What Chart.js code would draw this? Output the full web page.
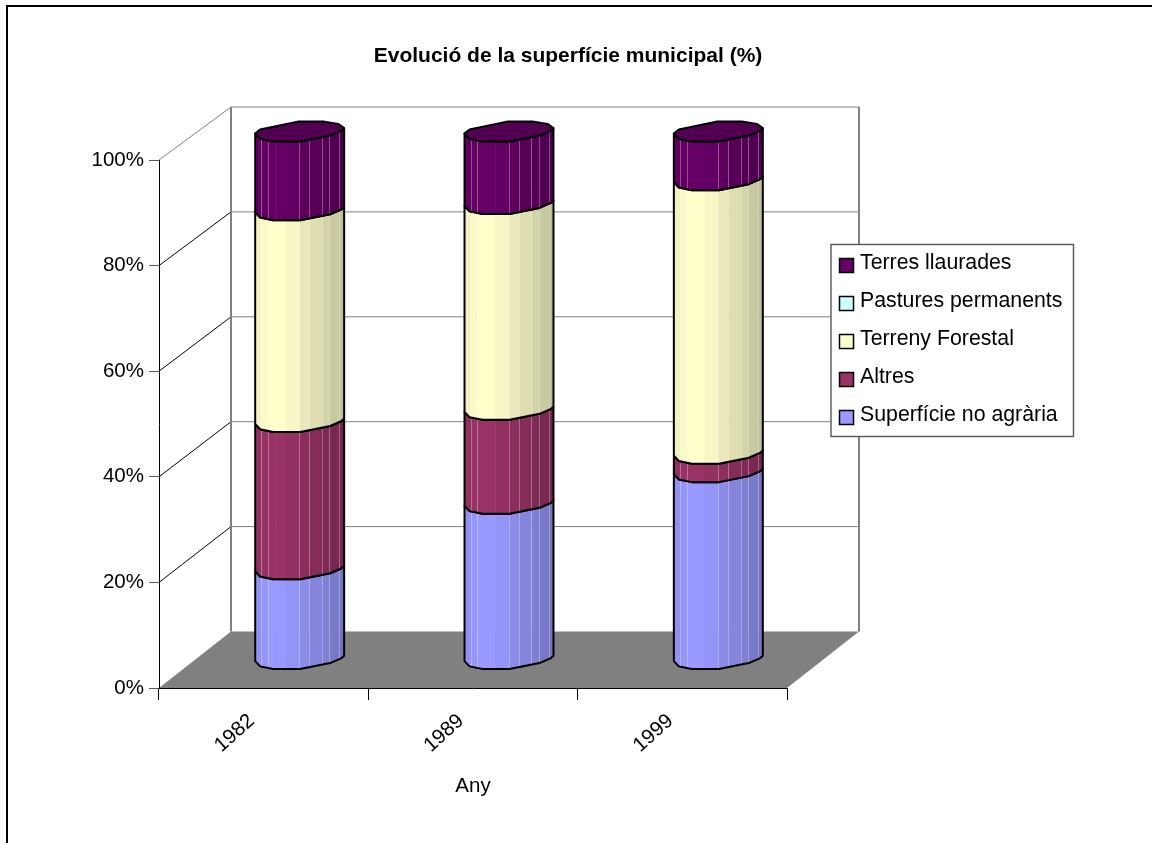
<!DOCTYPE html>
<html>
<head>
<meta charset="utf-8">
<title>Evolució de la superfície municipal</title>
<script src="https://cdn.jsdelivr.net/npm/chart.js@4/dist/chart.umd.min.js"></script>
<style>
  html, body { margin: 0; padding: 0; background: #fff; overflow: hidden; }
  canvas { display: block; }
</style>
</head>
<body>
<canvas id="barChart" width="1152" height="843"></canvas>
<script>
var years = ["1982", "1989", "1999"];
var superficie = [17.1, 29.5, 35.5];
var altres = [27.9, 17.8, 3.5];
var forestal = [40.1, 39.0, 51.8];
var pastures = [0, 0, 0];
var terres = [14.9, 13.7, 9.2];
var yTicks = [0, 20, 40, 60, 80, 100];

var FONT = "'Liberation Sans', Arial, sans-serif";
var GREY = "#808080";

// depth of the fake 3D box, the back wall is a bit shorter than the front plane
var depthX = 72, depthTop = 53, depthBottom = 56.5;

// outline of the octagonal column, measured for a half width of 44.5
var frontCurve = [[-44.5, 2], [-39.5, 7.3], [-26.5, 10], [0.5, 10], [30.5, 4], [42, -1], [44.5, -3.4]];
var backCurve = [[44.5, -3.4], [38.5, -7.7], [23.5, -10], [-1, -10], [-39.5, -2], [-44.5, 2]];
var facets = [0, 6, 12.7, 20, 30.7, 44.3, 54.3, 66.7, 74.3, 84.3, 89];
var shades = [0.95, 0.98, 1, 1, 0.97, 0.91, 0.87, 0.83, 0.79, 0.75];

function shade(hex, f) {
  var n = parseInt(hex.slice(1), 16);
  var r = Math.round((n >> 16 & 255) * f);
  var g = Math.round((n >> 8 & 255) * f);
  var b = Math.round((n & 255) * f);
  return "rgb(" + r + "," + g + "," + b + ")";
}

function backY(y, area) {
  var t = (y - area.top) / (area.bottom - area.top);
  return y - (depthTop + (depthBottom - depthTop) * t);
}

function drawWalls(ctx, chart) {
  var area = chart.chartArea;
  var yScale = chart.scales.y;
  var top = backY(area.top, area);
  var bottom = backY(area.bottom, area);

  ctx.fillStyle = GREY;
  ctx.beginPath();
  ctx.moveTo(area.left, area.bottom);
  ctx.lineTo(area.right, area.bottom);
  ctx.lineTo(area.right + depthX, bottom);
  ctx.lineTo(area.left + depthX, bottom);
  ctx.closePath();
  ctx.fill();

  yTicks.forEach(function(v) {
    var y = yScale.getPixelForValue(v);
    ctx.lineWidth = 1;
    ctx.strokeStyle = v == 100 ? GREY : "#000";
    if (v > 0) {
      ctx.beginPath();
      ctx.moveTo(area.left, y);
      ctx.lineTo(area.left + depthX, backY(y, area));
      ctx.stroke();
      ctx.strokeStyle = GREY;
      ctx.beginPath();
      ctx.moveTo(area.left + depthX, backY(y, area));
      ctx.lineTo(area.right + depthX, backY(y, area));
      ctx.stroke();
    }
  });

  ctx.strokeStyle = GREY;
  ctx.lineWidth = 2;
  ctx.beginPath();
  ctx.moveTo(area.left + depthX, top);
  ctx.lineTo(area.left + depthX, bottom);
  ctx.moveTo(area.right + depthX, top);
  ctx.lineTo(area.right + depthX, bottom);
  ctx.stroke();
}

function tracePoints(path, pts, cx, cy, k, first) {
  pts.forEach(function(p, i) {
    var x = cx + p[0] * k, y = cy + p[1];
    if (i == 0 && first) path.moveTo(x, y); else path.lineTo(x, y);
  });
}

function drawColumn(ctx, bar, color, isTop) {
  var k = bar.width / 89;
  var cx = bar.x + depthX / 2;
  var lift = (depthTop + depthBottom) / 4 + 0.3 * (depthBottom - depthTop);
  var yBase = bar.base - lift;
  var yTop = bar.y - lift;
  var left = cx - bar.width / 2;

  var outline = new Path2D();
  tracePoints(outline, frontCurve, cx, yBase, k, true);
  tracePoints(outline, frontCurve.slice().reverse(), cx, yTop, k, false);
  outline.closePath();

  ctx.save();
  ctx.clip(outline);
  shades.forEach(function(f, i) {
    ctx.fillStyle = shade(color, f);
    ctx.fillRect(left + facets[i] * k, yTop - 15, (facets[i + 1] - facets[i]) * k + 0.5, yBase - yTop + 30);
  });
  ctx.strokeStyle = "rgba(255,255,255,0.3)";
  ctx.lineWidth = 1;
  [1, 2, 5, 6, 7, 8, 9].forEach(function(i) {
    var x = Math.round(left + facets[i] * k) + 0.5;
    ctx.beginPath();
    ctx.moveTo(x, yTop - 15);
    ctx.lineTo(x, yBase + 15);
    ctx.stroke();
  });
  ctx.restore();
  ctx.strokeStyle = "#000";
  ctx.lineWidth = 2;
  ctx.lineJoin = "round";
  ctx.stroke(outline);

  if (isTop) {
    var cap = new Path2D();
    tracePoints(cap, frontCurve, cx, yTop, k, true);
    tracePoints(cap, backCurve, cx, yTop, k, false);
    cap.closePath();
    ctx.fillStyle = shade(color, 0.8);
    ctx.fill(cap);
    ctx.stroke(cap);
  }
}

function drawLegend(ctx, chart) {
  var sets = chart.data.datasets.slice().reverse();
  var x = 831, y = 244.5, w = 242.5, h = 192, step = 38;
  ctx.fillStyle = "#fff";
  ctx.fillRect(x, y, w, h);
  ctx.strokeStyle = "#555";
  ctx.lineWidth = 1.4;
  ctx.strokeRect(x, y, w, h);
  ctx.font = "21.3px " + FONT;
  ctx.textBaseline = "middle";
  ctx.textAlign = "left";
  sets.forEach(function(ds, i) {
    var cy = y + 21 + i * step;
    ctx.fillStyle = ds.backgroundColor;
    ctx.fillRect(x + 8.5, cy - 7, 14, 14);
    ctx.strokeStyle = "#000";
    ctx.lineWidth = 1.5;
    ctx.strokeRect(x + 8.5, cy - 7, 14, 14);
    ctx.fillStyle = "#000";
    ctx.fillText(ds.label, x + 29, cy - 2);
  });
}

var box3d = {
  id: "box3d",
  afterLayout: function(chart) {
    // title sits over the middle of the frame, not of the window
    chart.titleBlock.left = -16;
    chart.titleBlock.right = 1152;
  },
  beforeDraw: function(chart) {
    var ctx = chart.ctx;
    ctx.save();
    ctx.fillStyle = "#fff";
    ctx.fillRect(0, 0, chart.width, chart.height);
    // frame is cut by the screenshot, only top and left show
    ctx.strokeStyle = "#000";
    ctx.lineWidth = 2;
    ctx.beginPath();
    ctx.moveTo(7, chart.height);
    ctx.lineTo(7, 6);
    ctx.lineTo(chart.width, 6);
    ctx.stroke();
    ctx.restore();
  },
  beforeDatasetsDraw: function(chart) {
    var ctx = chart.ctx;
    ctx.save();
    drawWalls(ctx, chart);
    years.forEach(function(year, col) {
      var last = -1;
      chart.data.datasets.forEach(function(ds, i) {
        if (ds.data[col] > 0) last = i;
      });
      chart.data.datasets.forEach(function(ds, i) {
        if (ds.data[col] > 0) {
          drawColumn(ctx, chart.getDatasetMeta(i).data[col], ds.backgroundColor, i == last);
        }
      });
    });
    ctx.restore();
    return false;
  },
  afterDraw: function(chart) {
    chart.ctx.save();
    drawLegend(chart.ctx, chart);
    chart.ctx.restore();
  }
};

var barChart = document.getElementById("barChart").getContext("2d");

var myBarChart = new Chart(barChart, {
  type: "bar",
  plugins: [box3d],
  data: {
    labels: years,
    datasets: [
      { label: "Superfície no agrària", data: superficie, backgroundColor: "#9999FF" },
      { label: "Altres", data: altres, backgroundColor: "#993366" },
      { label: "Terreny Forestal", data: forestal, backgroundColor: "#FFFFCC" },
      { label: "Pastures permanents", data: pastures, backgroundColor: "#CCFFFF" },
      { label: "Terres llaurades", data: terres, backgroundColor: "#660066" }
    ]
  },
  options: {
    responsive: false,
    animation: false,
    events: [],
    layout: { padding: { right: 365, bottom: 40, top: 0, left: 0 } },
    datasets: { bar: { categoryPercentage: 0.425, barPercentage: 1 } },
    plugins: {
      legend: { display: false },
      tooltip: { enabled: false },
      title: {
        display: true,
        text: "Evolució de la superfície municipal (%)",
        color: "#000",
        font: { family: FONT, size: 21, weight: "bold" },
        padding: { top: 44, bottom: 90.8 }
      }
    },
    scales: {
      x: {
        stacked: true,
        afterFit: function(scale) { scale.height = 115; },
        grid: { drawOnChartArea: false, tickColor: "#000", tickLength: 12, z: 1 },
        border: { color: "#000", width: 1, z: 1 },
        ticks: {
          color: "#000",
          font: { family: FONT, size: 20.5 },
          minRotation: 42,
          maxRotation: 42,
          labelOffset: -12,
          padding: 9
        },
        title: {
          display: true,
          text: "Any",
          color: "#000",
          font: { family: FONT, size: 20.5 },
          padding: { top: 18 }
        }
      },
      y: {
        stacked: true,
        min: 0,
        max: 100,
        afterFit: function(scale) { scale.width = 159; },
        grid: { drawOnChartArea: false, tickColor: "#555", tickLength: 10, z: 1 },
        border: { color: "#000", width: 1, z: 1 },
        ticks: {
          stepSize: 20,
          color: "#000",
          padding: 5,
          font: { family: FONT, size: 20.5 },
          callback: function(v) { return v + "%"; }
        }
      }
    }
  }
});
</script>
</body>
</html>
